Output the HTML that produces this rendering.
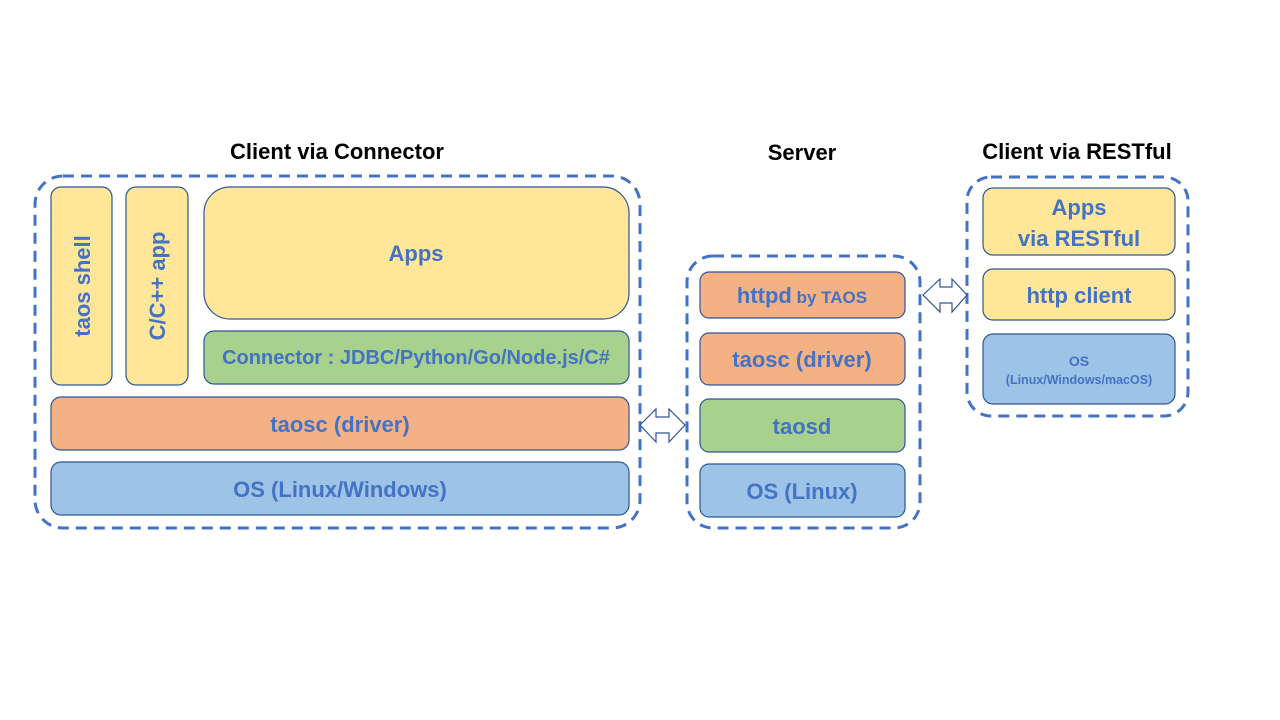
<!DOCTYPE html>
<html><head><meta charset="utf-8"><style>
html,body{margin:0;padding:0;background:#fff;}
svg{display:block}
text{font-family:"Liberation Sans",sans-serif;font-weight:bold;fill:#4472C4;}
</style></head><body>
<svg width="1280" height="720" viewBox="0 0 1280 720" xmlns="http://www.w3.org/2000/svg">
<g font-size="22" text-anchor="middle">
<text x="337" y="159" style="fill:#000">Client via Connector</text>
<text x="802" y="160" style="fill:#000">Server</text>
<text x="1077" y="159" style="fill:#000">Client via RESTful</text>
</g>
<g fill="none" stroke="#4472C4" stroke-width="3" stroke-dasharray="11,7">
<rect x="35" y="176" width="605" height="352" rx="28"/>
<rect x="687" y="256" width="233" height="272" rx="26"/>
<rect x="967" y="177" width="221" height="239" rx="24"/>
</g>
<g stroke="#2F5597" stroke-width="1.2">
<rect x="51" y="187" width="61" height="198" rx="10" fill="#FFE699"/>
<rect x="126" y="187" width="62" height="198" rx="10" fill="#FFE699"/>
<rect x="204" y="187" width="425" height="132" rx="26" fill="#FFE699"/>
<rect x="204" y="331" width="425" height="53" rx="10" fill="#A9D18E"/>
<rect x="51" y="397" width="578" height="53" rx="10" fill="#F4B183"/>
<rect x="51" y="462" width="578" height="53" rx="10" fill="#9DC3E6"/>
<rect x="700" y="272" width="205" height="46" rx="9" fill="#F4B183"/>
<rect x="700" y="333" width="205" height="52" rx="9" fill="#F4B183"/>
<rect x="700" y="399" width="205" height="53" rx="9" fill="#A9D18E"/>
<rect x="700" y="464" width="205" height="53" rx="9" fill="#9DC3E6"/>
<rect x="983" y="188" width="192" height="67" rx="10" fill="#FFE699"/>
<rect x="983" y="269" width="192" height="51" rx="10" fill="#FFE699"/>
<rect x="983" y="334" width="192" height="70" rx="10" fill="#9DC3E6"/>
</g>
<g fill="#fff" stroke="#2F5597" stroke-width="1.2">
<polygon points="640,425 656,409 656,417 669,417 669,409 685,425 669,442 669,433 656,433 656,442"/>
<polygon points="923,295 940,279 940,287 952,287 952,279 967,295 952,312 952,303 940,303 940,312"/>
</g>
<g font-size="22" text-anchor="middle">
<text transform="translate(90,286) rotate(-90)">taos shell</text>
<text transform="translate(165,286) rotate(-90)">C/C++ app</text>
<text x="416" y="261">Apps</text>
<text x="416" y="364" font-size="20">Connector : JDBC/Python/Go/Node.js/C#</text>
<text x="340" y="432">taosc (driver)</text>
<text x="340" y="497">OS (Linux/Windows)</text>
<text x="802" y="303"><tspan>httpd</tspan><tspan font-size="17"> by TAOS</tspan></text>
<text x="802" y="367">taosc (driver)</text>
<text x="802" y="434">taosd</text>
<text x="802" y="499">OS (Linux)</text>
<text x="1079" y="215">Apps</text>
<text x="1079" y="246">via RESTful</text>
<text x="1079" y="303">http client</text>
<text x="1079" y="366" font-size="14">OS</text>
<text x="1079" y="384" font-size="12.5">(Linux/Windows/macOS)</text>
</g>
</svg>
</body></html>
